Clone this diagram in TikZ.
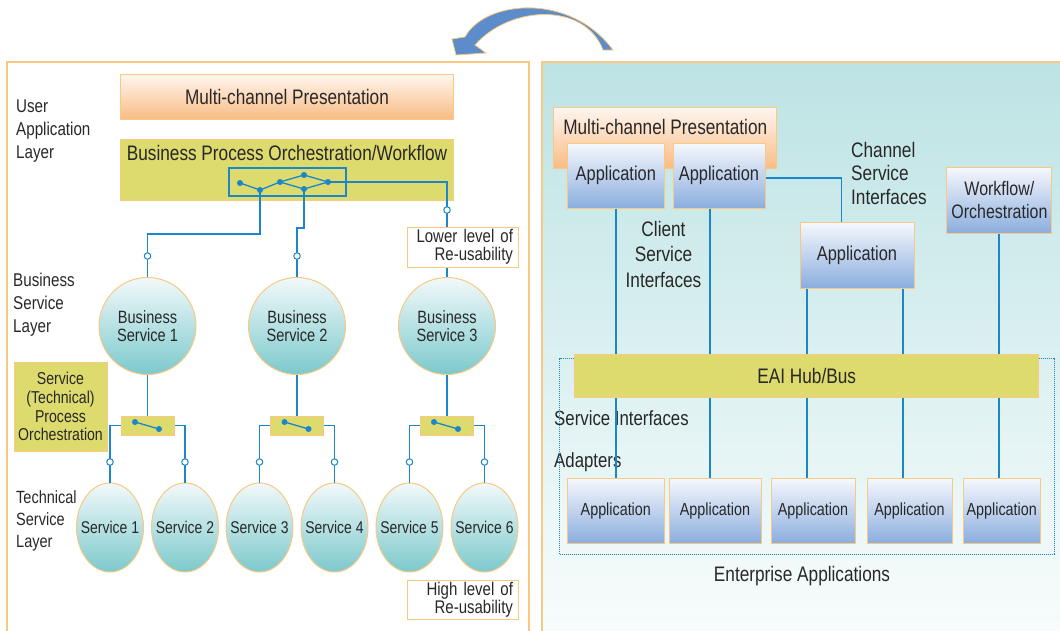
\documentclass[tikz,border=0pt]{standalone}
\usepackage{fontspec}
\setmainfont{Liberation Sans}[FakeStretch=0.82]
\usetikzlibrary{shapes.geometric}
\definecolor{orng}{RGB}{249,200,130}
\definecolor{ylw}{RGB}{221,218,110}
\definecolor{blu}{RGB}{27,134,201}
\definecolor{presT}{RGB}{255,246,240}
\definecolor{presB}{RGB}{249,188,132}
\definecolor{appT}{RGB}{246,248,253}
\definecolor{appB}{RGB}{139,174,222}
\definecolor{cirT}{RGB}{242,249,250}
\definecolor{cirB}{RGB}{124,201,204}
\definecolor{panT}{RGB}{189,227,228}
\definecolor{panB}{RGB}{248,252,252}
\definecolor{txt}{RGB}{40,40,40}
\definecolor{arr}{RGB}{92,140,201}
\begin{document}
\begin{tikzpicture}[x=1pt,y=-1pt,
  every node/.style={text=txt, inner sep=0pt},
  every label/.style={text=txt, inner sep=0pt},
  obox/.style={draw=orng, line width=1pt},
  pres/.style={obox, top color=presT, bottom color=presB},
  ybox/.style={obox, fill=ylw},
  app/.style={obox, top color=appT, bottom color=appB},
  bsvc/.style={circle, obox, top color=cirT, bottom color=cirB, minimum size=97pt, align=center, font=\fontsize{17.8}{18.5}\selectfont},
  tsvc/.style={ellipse, obox, top color=cirT, bottom color=cirB, minimum width=67pt, minimum height=89pt, label={[font=\fontsize{17}{19}\selectfont]center:#1}},
  wire/.style={draw=blu, line width=1.3pt},
  port/.style={circle, draw=blu, fill=white, line width=1pt, minimum size=6.5pt},
  jdot/.style={circle, fill=blu, minimum size=6pt},
  swbox/.style={ybox, minimum width=53pt, minimum height=19pt},
  notebox/.style={draw=orng, line width=1pt, fill=white, minimum width=111pt, text width=101pt, align=right, font=\fontsize{18.3}{18}\selectfont},
  lbl/.style={align=left, anchor=west},
  bigf/.style={font=\fontsize{21}{23.5}\selectfont},
]
\useasboundingbox (0,0) rectangle (1060,630);

% ---------- curved arrow ----------
\filldraw[fill=arr, draw=orng, line width=0.8pt] (465,37) .. controls (485,0) and (570,-8) .. (613,50) -- (603,50) .. controls (585,2) and (510,5) .. (475,45) -- (486,53) -- (456,55) -- (452,39) -- cycle;

% ---------- left panel ----------
\draw[orng, line width=1.3pt] (7,640) -- (7,62) -- (529,62) -- (529,640);

\node[lbl, font=\fontsize{18.5}{23}\selectfont] (ualabel) at (16,131) {User\\Application\\Layer};
\node[lbl, font=\fontsize{18.5}{23}\selectfont] (bslabel) at (13,305) {Business\\Service\\Layer};
\node[lbl, font=\fontsize{17.7}{22}\selectfont] (tslabel) at (16,521) {Technical\\Service\\Layer};

\node[pres, minimum width=333pt, minimum height=45pt, bigf] (lpres) at (287,96.5) {Multi-channel Presentation};
\node[ybox, minimum width=333pt, minimum height=61pt,
  label={[yshift=-14pt, anchor=center, font=\fontsize{21}{23}\selectfont]north:Business Process Orchestration/Workflow}] (bpo) at (287,169.5) {};
\node[draw=blu, line width=1.3pt, minimum width=117pt, minimum height=28pt] (flow) at (287.5,182) {};

\node[jdot] (d1) at (240,183) {};
\node[jdot] (d2) at (260,190) {};
\node[jdot] (d3) at (280,182) {};
\node[jdot] (d4) at (304,175) {};
\node[jdot] (d5) at (304,189) {};
\node[jdot] (d6) at (328,182) {};
\draw[wire] (d1.center) -- (d2.center) -- (d3.center) -- (d4.center) -- (d6.center) -- (d5.center) -- (d3.center);

\node[bsvc] (bs1) at (147.5,326) {Business\\Service 1};
\node[bsvc] (bs2) at (297,326) {Business\\Service 2};
\node[bsvc] (bs3) at (447,326) {Business\\Service 3};

\node[notebox, minimum height=40pt] (lowre) at (462.5,247) {Lower level of\\Re-usability};
\node[notebox, minimum height=39pt] (highre) at (462.5,599.5) {High level of\\Re-usability};

\node[ybox, minimum width=93pt, minimum height=89pt, align=center, font=\fontsize{17.2}{18.8}\selectfont] (spo) at (60.5,406.5) {Service\\(Technical)\\Process\\Orchestration};

\node[swbox] (sw1) at (147.5,425.5) {};
\node[swbox] (sw2) at (297,425.5) {};
\node[swbox] (sw3) at (446.5,425.5) {};
\node[jdot] (sw1a) at (135,422) {};
\node[jdot] (sw1b) at (159,429) {};
\node[jdot] (sw2a) at (284.5,422) {};
\node[jdot] (sw2b) at (308.5,429) {};
\node[jdot] (sw3a) at (434,422) {};
\node[jdot] (sw3b) at (458,429) {};
\draw[wire] (sw1a.center) -- (sw1b.center);
\draw[wire] (sw2a.center) -- (sw2b.center);
\draw[wire] (sw3a.center) -- (sw3b.center);

\node[tsvc={Service 1}] (s1) at (110,527.5) {};
\node[tsvc={Service 2}] (s2) at (185,527.5) {};
\node[tsvc={Service 3}] (s3) at (259.5,527.5) {};
\node[tsvc={Service 4}] (s4) at (334.5,527.5) {};
\node[tsvc={Service 5}] (s5) at (409.5,527.5) {};
\node[tsvc={Service 6}] (s6) at (484.5,527.5) {};

% wires left
\draw[wire] (d2.center) -- (d2.center |- 0,234) -| (bs1.north);
\draw[wire] (d5.center) -- (d5.center |- 0,228) -| (bs2.north);
\draw[wire] (d6.center) -| (bs3.north |- lowre.north);
\draw[wire] (bs3.north |- lowre.south) -- (bs3.north);
\draw[wire] (bs1.south) -- (sw1.north);
\draw[wire] (bs2.south) -- (sw2.north);
\draw[wire] (bs3.south) -- (bs3.south |- sw3.north);
\draw[wire] (sw1.west) -| (s1.north);
\draw[wire] (sw1.east) -| (s2.north);
\draw[wire] (sw2.west) -| (s3.north);
\draw[wire] (sw2.east) -| (s4.north);
\draw[wire] (sw3.west) -| (s5.north);
\draw[wire] (sw3.east) -| (s6.north);

\node[port] (pb1) at (bs1.north |- 0,256) {};
\node[port] (pb2) at (bs2.north |- 0,256) {};
\node[port] (pb3) at (bs3.north |- 0,210) {};
\node[port] (ps1) at (s1.north |- 0,462) {};
\node[port] (ps2) at (s2.north |- 0,462) {};
\node[port] (ps3) at (s3.north |- 0,462) {};
\node[port] (ps4) at (s4.north |- 0,462) {};
\node[port] (ps5) at (s5.north |- 0,462) {};
\node[port] (ps6) at (s6.north |- 0,462) {};

% ---------- right panel ----------
\shade[top color=panT, bottom color=panB] (542,62) rectangle (1062,632);
\draw[orng, line width=1.3pt] (542,640) -- (542,62) -- (1062,62);

\node[pres, minimum width=223pt, minimum height=61pt,
  label={[yshift=-20pt, anchor=center, font=\fontsize{21}{23}\selectfont]north:Multi-channel Presentation}] (rpres) at (665.25,137.5) {};
\node[app, minimum width=97.6pt, minimum height=65pt, font=\fontsize{20}{22}\selectfont] (app1) at (615.8,175.5) {Application};
\node[app, minimum width=92pt, minimum height=65pt, font=\fontsize{20}{22}\selectfont] (app2) at (719,175.5) {Application};
\node[lbl, font=\fontsize{21}{23.5}\selectfont] (chlabel) at (851,173) {Channel\\Service\\Interfaces};
\node[app, minimum width=105pt, minimum height=66pt, align=center, font=\fontsize{19.5}{23}\selectfont] (wflow) at (999.4,200) {Workflow/\\Orchestration};
\node[app, minimum width=114pt, minimum height=66pt, font=\fontsize{20}{22}\selectfont] (app3) at (857,255) {Application};
\node[align=center, font=\fontsize{21}{25.5}\selectfont] (cllabel) at (663.5,254) {Client\\Service\\Interfaces};

\node[lbl, font=\fontsize{20.5}{22}\selectfont] (silabel) at (554,418) {Service Interfaces};
\node[lbl, font=\fontsize{20.5}{22}\selectfont] (adlabel) at (554,462) {Adapters};

\node[app, minimum width=97.6pt, minimum height=65pt, font=\fontsize{17.5}{20}\selectfont] (ea1) at (615.8,510.5) {Application};
\node[app, minimum width=92pt, minimum height=65pt, font=\fontsize{17.5}{20}\selectfont] (ea2) at (715,510.5) {Application};
\node[app, minimum width=84pt, minimum height=65pt, font=\fontsize{17.5}{20}\selectfont] (ea3) at (813,510.5) {Application};
\node[app, minimum width=85pt, minimum height=65pt, font=\fontsize{17.5}{20}\selectfont] (ea4) at (909.5,510.5) {Application};
\node[app, minimum width=77.5pt, minimum height=65pt, font=\fontsize{17.5}{20}\selectfont] (ea5) at (1001.75,510.5) {Application};

\draw[wire] (app2.east |- 0,178) -| (841.7,0 |- app3.north);
\draw[wire] (616,0 |- app1.south) -- (616,0 |- ea1.north);
\draw[wire] (710,0 |- app2.south) -- (710,0 |- ea2.north);
\draw[wire] (807,0 |- app3.south) -- (807,0 |- ea3.north);
\draw[wire] (903,0 |- app3.south) -- (903,0 |- ea4.north);
\draw[wire] (999,0 |- wflow.south) -- (999,0 |- ea5.north);

\node[draw=blu, densely dotted, line width=1pt, minimum width=494.3pt, minimum height=196pt] (adframe) at (806.85,456) {};
\node[ybox, minimum width=464pt, minimum height=43pt, font=\fontsize{21}{23}\selectfont] (eai) at (806.7,375.5) {EAI Hub/Bus};

\node[font=\fontsize{21}{23}\selectfont] (ealabel) at (802,576) {Enterprise Applications};
\end{tikzpicture}
\end{document}
